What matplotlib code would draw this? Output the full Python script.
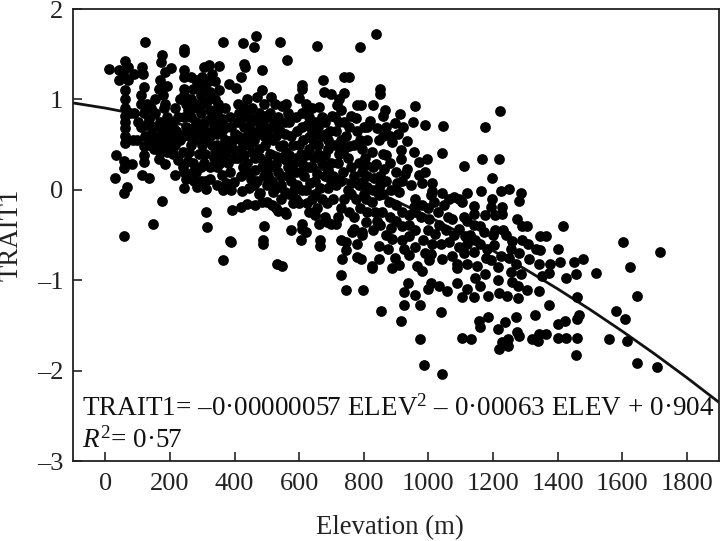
import numpy as np
import matplotlib
matplotlib.use("Agg")
import matplotlib.pyplot as plt

plt.rcParams['font.family'] = ['Liberation Serif', 'DejaVu Serif']
plt.rcParams['mathtext.fontset'] = 'custom'
plt.rcParams['mathtext.rm'] = 'Liberation Serif'
plt.rcParams['mathtext.it'] = 'Liberation Serif:italic'

x_ticks = [0, 200, 400, 600, 800, 1000, 1200, 1400, 1600, 1800]
y_ticks = [-3, -2, -1, 0, 1, 2]
y_tick_labels = ['\u20133', '\u20132', '\u20131', '0', '1', '2']

curve_elev = [-100, 0, 100, 200, 300, 400, 500, 600, 700, 800, 900, 1000, 1100, 1200, 1300, 1400, 1500, 1600, 1700, 1800, 1900]
curve_trait = [.961, .904, .835, .755, .664, .561, .447, .321, .184, .036, -.124, -.296, -.479, -.673, -.878, -1.095, -1.323, -1.563, -1.814, -2.077, -2.351]

sites_0_100 = [(13,1.34),(42,1.32),(61,1.43),(58,1.32),(70,1.36),(42,1.21),(58,1.25),(70,1.22),(89,1.28),(60,1.1),(62,1.0),(60,.9),(60,.82),(62,.75),(60,.68),(60,.6),(60,.52),(85,.55),(97,.55),(32,.38),(59,.32),(84,.29),(59,.24),(29,.13),(68,.03),(59,-.03),(59,-.51),(90,.85),(75,.85)]
sites_100_200 = [(115,1.36),(117,1.28),(122,1.63),(120,1.14),(130,.95),(120,.85),(135,.78),(150,.7),(123,.6),(120,.38),(120,.31),(115,.16),(135,.13),(166,.34),(184,.29),(176,-.125),(148,-.376),(176,1.49),(171,1.41),(202,1.35),(185,1.3),(170,1.22),(165,1.12),(180,1.05),(190,1.15),(185,.95),(182,.9),(190,.8),(150,.55),(165,.6),(180,.65),(195,.72),(150,.45),(135,.5),(195,.5),(190,.42),(160,.48),(110,.7),(125,.72),(110,.95),(100,.75),(140,.9),(155,.85),(170,.75),(110,1.05),(155,1.0),(140,.62),(175,.52),(205,.45),(170,.42),(120,.49),(140,.53),(166,.56),(187,.6),(197,.64)]
sites_200_300 = [(244,1.56),(244,1.52),(244,1.33),(244,1.25),(245,1.12),(245,1.05),(250,.95),(255,.88),(245,.8),(250,.7),(240,.6),(220,.65),(205,.6),(215,.5),(230,.55),(260,.6),(275,.55),(290,.65),(280,.75),(295,.85),(280,.95),(295,1.05),(290,1.18),(280,1.22),(300,1.25),(240,.42),(225,.33),(240,.25),(215,.16),(244,.2),(244,.02),(270,.3),(260,.42),(290,.4),(280,.2),(295,.1),(295,.25),(265,.5),(300,.5),(205,.75),(225,.8),(215,.9),(230,1.0),(265,.8),(270,.9),(265,1.0),(270,1.12),(265,1.25),(210,.4),(255,.32),(250,.12),(275,.1),(270,.2),(285,.03),(270,.68),(300,.72),(305,.3),(280,.62),(300,.62),(210,.7),(225,.62)]
sites_300_400 = [(321,1.38),(352,1.37),(305,1.36),(330,1.28),(340,1.2),(310,1.15),(325,1.08),(340,1.0),(352,1.1),(300,.95),(325,.88),(345,.85),(383,1.17),(405,1.13),(370,.9),(385,.8),(310,.75),(335,.7),(360,.65),(390,.7),(305,.55),(325,.6),(345,.5),(370,.55),(395,.55),(310,.4),(335,.35),(355,.3),(375,.4),(395,.45),(310,.1),(362,.16),(385,.2),(300,.05),(311,.01),(364,0),(398,.09),(311,-.25),(316,-.41),(393,-.22),(419,-.19),(364,1.63),(364,-.78),(385,-.57),(390,-.58),(295,1.15),(320,1.2),(350,.95),(315,.98),(365,.78),(325,.78),(345,.62),(350,.75),(375,.7),(310,.65),(330,.5),(360,.48),(380,.48),(400,.62),(400,.35),(380,.3),(345,.25),(325,.25),(325,.12),(345,.05),(375,.08),(390,.0),(360,.38),(340,.42)]
sites_400_500 = [(427,1.62),(460,1.58),(468,1.70),(429,1.39),(433,1.36),(421,1.25),(486,1.32),(486,1.10),(440,1.0),(470,1.03),(490,.95),(410,.95),(430,.9),(455,.9),(475,.85),(495,.82),(410,.75),(430,.7),(450,.75),(480,.7),(410,.6),(440,.6),(460,.55),(490,.6),(420,.45),(445,.5),(475,.45),(495,.5),(410,.35),(440,.3),(465,.35),(485,.25),(420,.15),(440,.2),(470,.1),(490,.15),(424,-.01),(460,.05),(480,-.03),(440,-.155),(465,-.17),(491,-.395),(489,-.56),(489,-.6),(486,-.14),(425,.8),(445,.82),(465,.78),(490,.78),(415,.85),(420,.55),(450,.65),(470,.62),(500,.68),(430,.38),(455,.42),(480,.35),(500,.32),(425,.25),(450,.12),(465,.22),(500,.05),(500,.18),(445,.02),(475,-.05)]
sites_500_600 = [(541,1.64),(562,1.44),(512,1.03),(525,.95),(548,.93),(560,.95),(510,.85),(535,.8),(555,.75),(569,.75),(515,.7),(540,.65),(575,.6),(595,.65),(520,.55),(550,.5),(580,.5),(510,.4),(535,.35),(560,.42),(590,.35),(510,.25),(535,.2),(565,.25),(590,.2),(515,.1),(545,.05),(575,.1),(595,.05),(520,-.02),(545,-.1),(570,-.05),(590,-.1),(530,-.2),(555,-.25),(580,-.15),(574,-.44),(533,-.82),(548,-.84),(530,.72),(555,.62),(530,.6),(590,.8),(565,.85),(520,.78),(505,.6),(540,.48),(570,.38),(530,.28),(545,.15),(565,.15),(530,.02),(555,-.02),(585,.0),(505,.15),(560,.33),(600,.5),(580,.28),(515,-.17),(500,-.13),(535,-.23),(560,-.27),(600,-.15)]
sites_600_700 = [(656,1.59),(608,1.16),(608,1.12),(600,1.01),(620,.95),(661,.92),(675,1.22),(677,1.08),(698,1.06),(630,.8),(610,.85),(650,.75),(680,.75),(610,.7),(640,.65),(670,.6),(695,.65),(612,.55),(645,.52),(682,.62),(605,.4),(630,.45),(660,.4),(690,.45),(610,.3),(640,.25),(670,.3),(700,.3),(615,.15),(650,.1),(680,.15),(620,.0),(650,-.05),(690,.02),(625,-.15),(655,-.2),(685,-.15),(630,-.25),(661,-.375),(687,-.36),(605,-.56),(610,-.375),(620,-.47),(665,-.56),(665,-.62),(610,.0),(605,.2),(625,.72),(650,.62),(660,.7),(670,.8),(630,.58),(660,.5),(690,.55),(620,.38),(645,.35),(680,.38),(630,.25),(655,.18),(690,.22),(635,.08),(665,.02),(700,.1),(640,-.1),(670,-.1),(640,.9),(625,.88),(610,-.43),(650,-.28),(680,-.3)]
sites_700_800 = [(718,.94),(739,1.25),(754,1.25),(739,1.07),(790,1.58),(725,1.0),(780,.94),(703,.82),(710,.8),(740,.75),(775,.79),(715,.65),(745,.6),(780,.65),(710,.5),(740,.45),(770,.5),(795,.45),(720,.3),(750,.35),(785,.3),(705,.15),(735,.2),(770,.15),(795,.2),(715,.05),(750,.0),(785,.05),(705,-.1),(740,-.1),(775,-.1),(800,-.05),(720,-.3),(755,-.25),(790,-.2),(765,-.47),(744,-.58),(729,-.56),(744,-.67),(734,-.76),(780,-.745),(770,-.43),(780,-.6),(795,-.5),(731,-.94),(746,-1.106),(793,-.76),(795,.09),(793,.94),(795,-.47),(700,-.38),(715,-.38),(730,.88),(725,.75),(755,.7),(760,.82),(800,.7),(730,.55),(755,.48),(790,.55),(725,.4),(760,.25),(730,.1),(760,.08),(760,-.05),(730,-.2),(770,-.3)]
sites_800_1000 = [(837,1.72),(849,1.11),(852,1.06),(829,.94),(960,.93),(865,.88),(860,.82),(912,.84),(821,.76),(896,.74),(922,.70),(953,.75),(989,.72),(811,.69),(933,.54),(847,.55),(888,.53),(955,.42),(914,.44),(826,.42),(868,.38),(914,.34),(997,.34),(971,.31),(862,.23),(806,.27),(837,.29),(935,.23),(929,.18),(991,.2),(971,.16),(981,.07),(831,.13),(902,.08),(852,.05),(909,-.02),(960,-.1),(847,-.06),(878,-.14),(899,-.17),(955,-.19),(981,-.17),(806,-.1),(826,-.14),(857,-.25),(852,-.39),(899,-.34),(940,-.28),(940,-.39),(976,-.3),(888,-.54),(919,-.55),(940,-.51),(847,-.62),(806,-.36),(960,-.63),(940,-.72),(896,-.75),(847,-.77),(909,-.83),(826,-.84),(966,-.84),(826,-.87),(888,-.87),(981,-.9),(799,-1.11),(937,-1.03),(924,-1.13),(960,-1.16),(924,-1.27),(974,-1.27),(854,-1.34),(916,-1.45),(974,-1.65),(986,-1.94),(810,.55),(805,.35),(810,.15),(810,.03),(810,-.25),(830,.25),(850,.15),(870,.1),(885,.0),(830,.0),(860,-.05),(835,-.25),(880,-.3),(830,-.45),(870,-.5),(840,-.35),(885,-.42),(900,.2),(880,.3),(860,.4),(840,.68),(880,.6),(905,.62),(870,.7),(860,.6),(920,.1),(945,.05),(960,-.25),(920,-.25),(960,-.45),(920,-.4),(985,-.55),(990,-.7),(925,-.65),(875,-.65)]
sites_1000_1200 = [(1046,.71),(1174,.70),(1043,.41),(1110,.26),(1165,.34),(1196,.13),(1012,.07),(1043,-.03),(1120,-.03),(1162,-.01),(1198,-.1),(1012,-.01),(1007,-.06),(1079,-.08),(1105,-.14),(1141,-.18),(1193,-.19),(1177,-.28),(1141,-.27),(1182,-.65),(1193,-.78),(1017,-.14),(1048,-.17),(1064,-.1),(1095,-.1),(1002,-.32),(1033,-.39),(1022,-.49),(1074,-.32),(1095,-.43),(1120,-.34),(1141,-.39),(1172,-.47),(1115,-.51),(1146,-.56),(1064,-.58),(1095,-.63),(1141,-.69),(1007,-.71),(1002,-.78),(1043,-.76),(1074,-.73),(1089,-.82),(1120,-.82),(1151,-.84),(1038,-1.35),(1043,-2.04),(999,-1.1),(1007,-1.03),(1033,-1.06),(1058,-1.12),(1089,-1.03),(1105,-1.19),(1120,-1.1),(1141,-1.19),(1146,-.98),(1159,-1.06),(1185,-1.18),(1177,-.93),(1089,-.87),(1185,-1.41),(1157,-1.45),(1160,-1.52),(1103,-1.64),(1133,-1.65),(1000,-.2),(1030,-.25),(1000,-.45),(1055,-.45),(1080,-.5),(1110,-.3),(1130,-.5),(1160,-.4),(1060,-.3),(1110,-.7),(1160,-.6),(1200,-.5),(1180,-.75),(1040,-.6),(1010,-.6),(1120,-.6)]
sites_1200_1400 = [(1223,.87),(1218,.34),(1224,-.01),(1251,.01),(1286,-.03),(1280,-.12),(1229,-.19),(1229,-.27),(1208,-.28),(1275,-.32),(1291,-.40),(1306,-.40),(1208,-.44),(1347,-.51),(1363,-.51),(1332,-.65),(1347,-.67),(1291,-.56),(1260,-.57),(1203,-.61),(1255,-.66),(1224,-.73),(1311,-.76),(1270,-.82),(1342,-.82),(1378,-.82),(1218,-1.14),(1216,-1.0),(1260,-1.02),(1278,-1.06),(1244,-1.18),(1278,-1.2),(1306,-1.11),(1342,-1.12),(1255,-.91),(1286,-.93),(1373,-.92),(1353,-.95),(1375,-1.27),(1329,-1.39),(1273,-1.41),(1239,-1.46),(1215,-1.54),(1275,-1.57),(1282,-1.62),(1246,-1.65),(1229,-1.68),(1218,-1.76),(1246,-1.73),(1322,-1.65),(1339,-1.67),(1342,-1.6),(1365,-1.6),(1240,-.5),(1230,-.45),(1250,-.75),(1215,-.85),(1280,-.7),(1310,-.6)]
sites_1400_1800 = [(1416,-.40),(1401,-.66),(1409,-.80),(1451,-.80),(1478,-.77),(1603,-.58),(1717,-.69),(1623,-.85),(1425,-.98),(1458,-.93),(1518,-.92),(1461,-1.19),(1647,-1.18),(1402,-1.64),(1427,-1.64),(1459,-1.64),(1402,-1.48),(1422,-1.45),(1461,-1.43),(1468,-1.38),(1458,-1.83),(1559,-1.65),(1580,-1.34),(1609,-1.43),(1616,-1.67),(1647,-1.92),(1707,-1.96)]

bands = [sites_0_100, sites_100_200, sites_200_300, sites_300_400, sites_400_500, sites_500_600,
         sites_600_700, sites_700_800, sites_800_1000, sites_1000_1200, sites_1200_1400, sites_1400_1800]
elev, trait = np.array(sum(bands, [])).T

fig = plt.figure(figsize=(7.2, 5.41), dpi=100)
ax = fig.add_axes([73/720, 1 - 461/541, 646/720, 452/541])
ax.plot(curve_elev, curve_trait, color='#111111', lw=2.0, zorder=2)
ax.scatter(elev, trait, s=60, color='black', linewidths=0, zorder=3)
ax.set_xlim(-100, 1900)
ax.set_ylim(-3, 2)
ax.set_xticks(x_ticks)
ax.set_yticks(y_ticks)
ax.set_yticklabels(y_tick_labels)
ax.tick_params(direction='in', length=6.5, width=1.1, labelsize=19, pad=7, color='#111111', labelcolor='#222222')
ax.tick_params(axis='x', pad=9)
for s in ax.spines.values():
    s.set_linewidth(1.3)
    s.set_color('#222222')
ax.set_xlabel('Elevation (m)', fontsize=19.3, color='#222222')
ax.xaxis.set_label_coords(0.49, -0.119)
ax.set_ylabel('TRAIT1', fontsize=19.3, color='#222222')
ax.yaxis.set_label_coords(-0.076, 0.5)
ax.text(-72, -2.5, 'TRAIT1= \u20130\u00b700000057 ELEV$^{2}$ \u2013 0\u00b700063 ELEV + 0\u00b7904',
        fontsize=19.5, va='baseline', color='#111111', zorder=4)
ax.text(-72, -2.854, '$\\mathit{R}^{2}$= 0\u00b757',
        fontsize=19.5, va='baseline', color='#111111', zorder=4)
fig.savefig('out.png', dpi=100)
